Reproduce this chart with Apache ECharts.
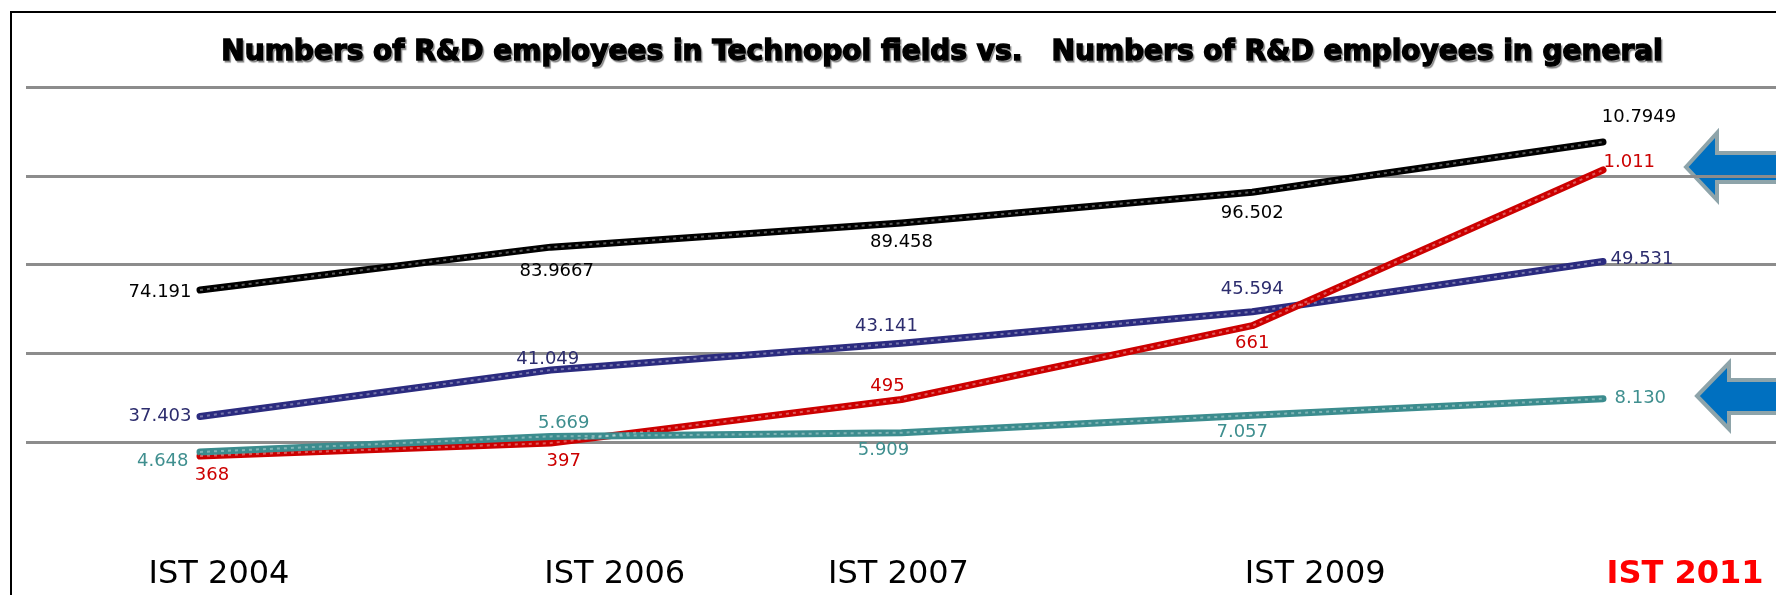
<!DOCTYPE html>
<html>
<head>
<meta charset="utf-8">
<script src="https://cdn.jsdelivr.net/npm/echarts@6/dist/echarts.min.js"></script>
<style>
  html, body { margin: 0; padding: 0; background: #fff; }
  #chart { width: 1776px; height: 595px; }
</style>
</head>
<body>
<div id="chart"></div>
<script>
// categories (x axis)
const years = ['IST 2004', 'IST 2006', 'IST 2007', 'IST 2009', 'IST 2011'];

// series values, and the text printed next to each point
const generalValues = [74191, 83967, 89458, 96502, 107949];
const generalTexts = ['74.191', '83.9667', '89.458', '96.502', '10.7949'];

const navyValues = [37403, 41049, 43141, 45594, 49531];
const navyTexts = ['37.403', '41.049', '43.141', '45.594', '49.531'];

const redValues = [368, 397, 495, 661, 1011];
const redTexts = ['368', '397', '495', '661', '1.011'];

const tealValues = [4648, 5669, 5909, 7057, 8130];
const tealTexts = ['4.648', '5.669', '5.909', '7.057', '8.130'];

// label placement per point: [position, dx, dy]
const generalPlace = [['left', -2, 2], ['bottom', 6, 9], ['bottom', 0, 4], ['bottom', 0, 6], ['top', 36, -9]];
const navyPlace = [['left', -2, 0], ['top', -3, 5], ['top', -15, -1], ['top', 0, -7], ['right', 1, -2]];
const redPlace = [['bottom', 12, 4], ['bottom', 13, 3], ['top', -14, 2], ['bottom', 0, 2], ['right', -6, -8]];
const tealPlace = [['left', -5, 9], ['top', 13, 2], ['bottom', -18, 2], ['bottom', -10, 2], ['right', 5, 0]];

// each line sits on its own (hidden) scale, like the original picture
const scales = [
  { min: 39519, max: 120495 },
  { min: 35413, max: 63178 },
  { min: 399.5, max: 1197.6 },
  { min: 5301.7, max: 28516 }
];

// x label shift from the point (the labels are not centred on the points)
const labelShift = [19, 64, -3, 63, 82];

function buildData(values, texts, place, color) {
  return values.map((v, i) => ({
    value: v,
    label: {
      show: true,
      formatter: texts[i],
      position: place[i][0],
      offset: [place[i][1], place[i][2]],
      color: color
    }
  }));
}

function lineSeries(name, values, texts, place, color, labelColor, axis, width) {
  return [
    {
      name: name,
      type: 'line',
      xAxisIndex: 1,
      yAxisIndex: axis,
      clip: false,
      symbol: 'circle',
      symbolSize: 3,
      itemStyle: { color: color },
      lineStyle: { color: color, width: width, cap: 'round', join: 'round' },
      label: { fontFamily: 'DejaVu Sans', fontSize: 18 },
      data: buildData(values, texts, place, labelColor),
      z: 3
    },
    {
      // light dashed texture on top of the line
      type: 'line',
      xAxisIndex: 1,
      yAxisIndex: axis,
      clip: false,
      silent: true,
      symbol: 'none',
      lineStyle: { color: 'rgba(255,255,255,0.35)', width: 2, type: [3, 4] },
      data: values,
      z: 4
    }
  ];
}

const chart = echarts.init(document.getElementById('chart'));

const rich = {};
labelShift.forEach((s, i) => {
  rich['s' + i] = {
    fontFamily: 'DejaVu Sans',
    fontSize: 32,
    color: i === 4 ? '#ff0000' : '#000',
    fontWeight: i === 4 ? 'bold' : 'normal',
    padding: s >= 0 ? [0, 0, 0, 2 * s] : [0, -2 * s, 0, 0]
  };
});

const arrowStyle = { fill: '#0070c0', stroke: '#8ea4aa', lineWidth: 4 };

chart.setOption({
  animation: false,
  backgroundColor: '#fff',
  title: {
    text: 'Numbers of R&D employees in Technopol fields vs.   Numbers of R&D employees in general',
    left: 937,
    top: 34,
    textAlign: 'center',
    textStyle: {
      fontFamily: 'DejaVu Sans',
      fontSize: 28,
      fontWeight: 'bold',
      color: '#000',
      textBorderColor: '#000',
      textBorderWidth: 1.4,
      textShadowColor: 'rgba(0,0,0,0.35)',
      textShadowOffsetX: 1.5,
      textShadowOffsetY: 1.5,
      textShadowBlur: 1
    }
  },
  grid: [
    { left: 26, right: 0, top: 87, bottom: 153 },
    { left: 200, right: 173, top: 87, bottom: 153 }
  ],
  xAxis: [
    { gridIndex: 0, type: 'value', show: false, min: 0, max: 1 },
    {
      gridIndex: 1,
      type: 'category',
      data: years,
      boundaryGap: false,
      axisLine: { show: false },
      axisTick: { show: false },
      axisLabel: {
        margin: 117,
        interval: 0,
        formatter: (v, i) => '{s' + i + '|' + v + '}',
        rich: rich
      }
    }
  ],
  yAxis: [
    {
      gridIndex: 0,
      type: 'value',
      min: 0,
      max: 4,
      interval: 1,
      axisLine: { show: false },
      axisTick: { show: false },
      axisLabel: { show: false },
      splitLine: { show: true, lineStyle: { color: '#8c8c8c', width: 3 } }
    }
  ].concat(scales.map(s => ({
    gridIndex: 1,
    type: 'value',
    show: false,
    min: s.min,
    max: s.max,
    splitLine: { show: false }
  }))),
  series: [].concat(
    lineSeries('R&D employees in general', generalValues, generalTexts, generalPlace, '#000000', '#000000', 1, 7),
    lineSeries('R&D employees (2)', navyValues, navyTexts, navyPlace, '#2b2b7f', '#2d2d6e', 2, 7),
    lineSeries('R&D employees in Technopol fields', redValues, redTexts, redPlace, '#cc0000', '#cc0000', 3, 7),
    lineSeries('R&D employees (4)', tealValues, tealTexts, tealPlace, '#3b8c8e', '#3f8f8f', 4, 7)
  ),
  graphic: [
    {
      type: 'rect',
      shape: { x: 11, y: 12, width: 1800, height: 620 },
      style: { fill: 'none', stroke: '#000', lineWidth: 2 },
      silent: true
    },
    {
      type: 'polygon',
      shape: { points: [[1686, 167], [1717, 133], [1717, 153], [1790, 153], [1790, 182], [1717, 182], [1717, 200]] },
      style: arrowStyle,
      silent: true
    },
    {
      type: 'polygon',
      shape: { points: [[1697, 396], [1729, 363], [1729, 380], [1790, 380], [1790, 413], [1729, 413], [1729, 429]] },
      style: arrowStyle,
      silent: true
    }
  ]
});
</script>
</body>
</html>
